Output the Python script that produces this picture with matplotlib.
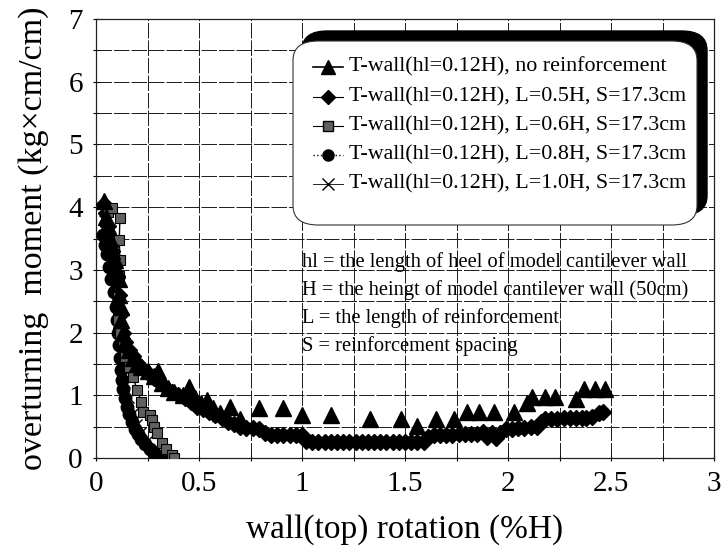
import matplotlib
matplotlib.use("Agg")
import matplotlib.pyplot as plt
from matplotlib.lines import Line2D
from matplotlib.patches import FancyBboxPatch

plt.rcParams['font.family'] = ['Liberation Serif', 'DejaVu Serif']

# ---------------- data ----------------
tri_x = [0.04, 0.05, 0.06, 0.07, 0.08, 0.09, 0.10, 0.11, 0.11, 0.12, 0.12, 0.13, 0.14, 0.16,
         0.18, 0.20, 0.22, 0.25, 0.28, 0.30, 0.32, 0.35, 0.38, 0.42, 0.45, 0.48, 0.51, 0.54,
         0.57, 0.60, 0.65, 0.70, 0.79, 0.91, 1.00, 1.14, 1.33, 1.48, 1.56, 1.65, 1.74, 1.80,
         1.86, 1.93, 2.03, 2.09, 2.115, 2.18, 2.23, 2.33, 2.37, 2.42, 2.47]
tri_y = [4.10, 3.85, 3.70, 3.50, 3.30, 3.15, 3.00, 2.85, 2.60, 2.40, 2.20, 2.00, 1.85, 1.72,
         1.60, 1.50, 1.45, 1.38, 1.30, 1.38, 1.20, 1.12, 1.05, 1.00, 1.14, 0.95, 0.88, 0.93,
         0.80, 0.72, 0.82, 0.62, 0.80, 0.80, 0.69, 0.69, 0.62, 0.62, 0.51, 0.62, 0.62, 0.74,
         0.74, 0.74, 0.74, 0.88, 0.98, 0.97, 0.97, 0.94, 1.10, 1.10, 1.10]

dia_x = [0.04, 0.05, 0.06, 0.07, 0.08, 0.09, 0.10, 0.11, 0.12, 0.13, 0.14, 0.16, 0.18, 0.20,
         0.22, 0.25, 0.28, 0.31, 0.34, 0.37, 0.40, 0.43, 0.46, 0.49, 0.52, 0.55, 0.58, 0.61,
         0.64, 0.67, 0.70, 0.73, 0.76, 0.79, 0.82, 0.85, 0.88, 0.91, 0.94, 0.97, 1.00, 1.02,
         1.05, 1.08, 1.11, 1.14, 1.17, 1.20, 1.23, 1.26, 1.29, 1.32, 1.35, 1.38, 1.41, 1.44,
         1.47, 1.50, 1.53, 1.56, 1.59, 1.61, 1.64, 1.67, 1.70, 1.73, 1.76, 1.79, 1.82, 1.85,
         1.88, 1.90, 1.92, 1.94, 1.96, 1.99, 2.02, 2.05, 2.08, 2.11, 2.14, 2.16, 2.18, 2.21,
         2.24, 2.27, 2.30, 2.33, 2.36, 2.38, 2.41, 2.44, 2.46]
dia_y = [4.05, 3.90, 3.70, 3.50, 3.30, 3.10, 2.90, 2.60, 2.30, 2.00, 1.85, 1.72, 1.62, 1.52,
         1.45, 1.35, 1.27, 1.20, 1.12, 1.06, 1.00, 0.95, 0.90, 0.82, 0.78, 0.74, 0.68, 0.63,
         0.58, 0.55, 0.50, 0.48, 0.48, 0.46, 0.40, 0.36, 0.36, 0.36, 0.36, 0.36, 0.36, 0.27,
         0.26, 0.26, 0.26, 0.26, 0.26, 0.26, 0.26, 0.26, 0.26, 0.26, 0.26, 0.26, 0.26, 0.26,
         0.26, 0.26, 0.26, 0.26, 0.26, 0.33, 0.36, 0.37, 0.37, 0.37, 0.38, 0.38, 0.38, 0.38,
         0.42, 0.34, 0.40, 0.32, 0.40, 0.46, 0.47, 0.48, 0.48, 0.49, 0.50, 0.58, 0.62, 0.62,
         0.62, 0.63, 0.63, 0.63, 0.63, 0.63, 0.66, 0.71, 0.74]

sq_x = [0.06, 0.08, 0.116, 0.113, 0.116, 0.112, 0.108, 0.107, 0.115, 0.13, 0.14, 0.16, 0.18,
        0.20, 0.22, 0.23, 0.26, 0.27, 0.28, 0.295, 0.32, 0.34, 0.367, 0.38]
sq_y = [3.93, 3.98, 3.83, 3.48, 3.16, 2.90, 2.57, 2.20, 2.00, 1.83, 1.61, 1.45, 1.29,
        1.08, 0.90, 0.74, 0.69, 0.61, 0.50, 0.40, 0.24, 0.14, 0.05, 0.00]

cir_x = [0.035, 0.045, 0.055, 0.065, 0.075, 0.085, 0.095, 0.10, 0.105, 0.11, 0.115, 0.12,
         0.125, 0.13, 0.14, 0.15, 0.16, 0.175, 0.19, 0.205, 0.22, 0.24, 0.26, 0.28, 0.30, 0.31]
cir_y = [3.55, 3.40, 3.25, 3.05, 2.85, 2.65, 2.40, 2.20, 2.00, 1.80, 1.60, 1.40,
         1.25, 1.10, 0.95, 0.82, 0.70, 0.58, 0.47, 0.38, 0.30, 0.22, 0.15, 0.08, 0.03, 0.00]

x_x = [0.04, 0.06, 0.08, 0.10, 0.11, 0.12, 0.13, 0.14, 0.16, 0.18, 0.20, 0.22, 0.25, 0.28,
       0.31, 0.33]
x_y = [3.80, 3.50, 3.10, 2.60, 2.20, 1.80, 1.50, 1.20, 0.95, 0.72, 0.55, 0.42, 0.28, 0.15,
       0.05, 0.00]

legend_labels = ["T-wall(hl=0.12H), no reinforcement",
                 "T-wall(hl=0.12H), L=0.5H, S=17.3cm",
                 "T-wall(hl=0.12H), L=0.6H, S=17.3cm",
                 "T-wall(hl=0.12H), L=0.8H, S=17.3cm",
                 "T-wall(hl=0.12H), L=1.0H, S=17.3cm"]
note_lines = ["hl = the length of heel of model cantilever wall",
              "H = the heingt of model cantilever wall (50cm)",
              "L = the length of reinforcement",
              "S = reinforcement spacing"]
x_ticks = [0, 0.5, 1, 1.5, 2, 2.5, 3]
x_tick_labels = ['0', '0.5', '1', '1.5', '2', '2.5', '3']
y_ticks = [0, 1, 2, 3, 4, 5, 6, 7]

# ---------------- figure ----------------
W, H = 723, 553
fig = plt.figure(figsize=(W / 100, H / 100), dpi=100)
ax = fig.add_axes([96 / W, 1 - 458 / H, (714 - 96) / W, (458 - 19) / H])

def fx(px):
    return px / W

def fy(py):
    return 1 - py / H

ax.set_xlim(0, 3)
ax.set_ylim(0, 7)
ax.set_xticks(x_ticks)
ax.set_xticklabels(x_tick_labels)
ax.set_yticks(y_ticks)
ax.set_xticks([0.25 * i for i in range(13)], minor=True)
ax.set_yticks([0.5 * i for i in range(15)], minor=True)
ax.grid(True, which='both', color='#1a1a1a', linewidth=0.7, linestyle=(0, (16, 2)))
ax.set_axisbelow(True)
ax.tick_params(which='both', direction='inout', length=5, width=0.8, labelsize=21, pad=7)
for s in ax.spines.values():
    s.set_linewidth(0.9)
    s.set_color('#222222')

# series
ax.plot(x_x, x_y, color='black', lw=0.8, marker='x', ms=7, mew=1.0, zorder=3)
ax.plot(cir_x, cir_y, color='black', lw=1, ls=':', marker='o', ms=9, mfc='black', zorder=3)
ax.plot(sq_x, sq_y, color='black', lw=1, ls='-', marker='s', ms=6.5, mfc='#606060',
        mec='black', mew=0.8, zorder=4)
ax.plot(dia_x, dia_y, color='black', lw=1.0, marker='D', ms=8.5, mfc='black', zorder=3)
ax.plot(tri_x, tri_y, color='black', ls='none', marker='^', ms=11, mfc='black', zorder=5)

ax.set_xlabel('wall(top) rotation (%H)', fontsize=24, labelpad=12)
ax.set_ylabel('overturning  moment (kg\u00d7cm/cm)', fontsize=24.5, labelpad=14)

# legend box with heavy shadow (upper right)
shadow = FancyBboxPatch((fx(302), fy(215)), fx(707) - fx(302), fy(31) - fy(215),
                        boxstyle="round,pad=0,rounding_size=0.035",
                        transform=fig.transFigure, facecolor='black', edgecolor='black',
                        zorder=10)
fig.patches.append(shadow)
box = FancyBboxPatch((fx(293), fy(225)), fx(697) - fx(293), fy(41) - fy(225),
                     boxstyle="round,pad=0,rounding_size=0.035",
                     transform=fig.transFigure, facecolor='white', edgecolor='#333333',
                     linewidth=0.8, zorder=11)
fig.patches.append(box)

styles = [dict(ls='-', lw=1.2, marker='^', ms=10, mfc='black'),
          dict(ls='-', lw=0.8, marker='D', ms=7, mfc='black'),
          dict(ls='-', lw=0.8, marker='s', ms=7, mfc='#606060'),
          dict(ls=':', lw=1.0, marker='o', ms=8, mfc='black'),
          dict(ls='-', lw=0.6, marker='x', ms=8, mfc='black')]
rows = [67, 97, 126, 155, 184]
for lab, st, r in zip(legend_labels, styles, rows):
    ln = Line2D([fx(313), fx(343)], [fy(r), fy(r)], color='black', transform=fig.transFigure,
                zorder=12, ls=st['ls'], lw=st['lw'])
    fig.lines.append(ln)
    mk = Line2D([fx(328)], [fy(r)], color='black', transform=fig.transFigure, ls='none',
                marker=st['marker'], ms=st['ms'], mfc=st['mfc'], mec='black', zorder=13)
    fig.lines.append(mk)
    fig.text(fx(349), fy(r), lab, fontsize=15.8, va='center', ha='left', zorder=14)

for i, t in enumerate(note_lines):
    fig.text(fx(302), fy(262 + 28 * i), t, fontsize=14.8, va='center', ha='left')

fig.savefig('out.png', dpi=100)
